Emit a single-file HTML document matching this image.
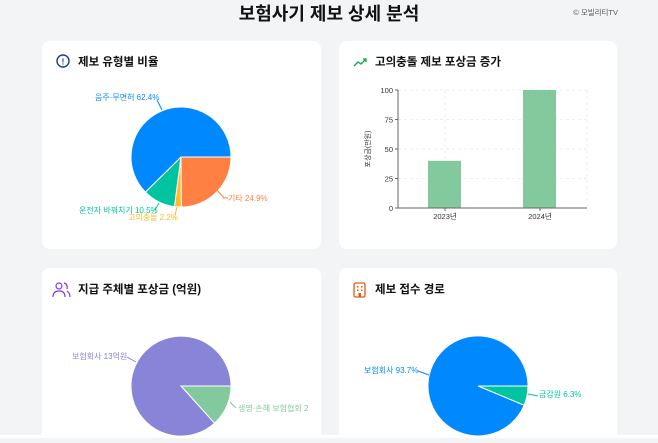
<!DOCTYPE html>
<html><head><meta charset="utf-8"><style>
body{margin:0;width:658px;height:438px;overflow:hidden;background:#f3f4f6;font-family:"Liberation Sans","Noto Sans CJK KR",sans-serif}
</style></head><body>
<svg width="658" height="438" viewBox="0 0 658 438" xmlns="http://www.w3.org/2000/svg" font-family="Liberation Sans, Noto Sans CJK KR, sans-serif">
<rect width="658" height="438" fill="#f3f4f6"/>
<text x="329" y="20" text-anchor="middle" font-size="18" font-weight="bold" fill="#111">보험사기 제보 상세 분석</text>
<text x="618" y="15" text-anchor="end" font-size="7.5" fill="#555">© 모빌리티TV</text>
<rect x="42" y="41" width="279" height="208" rx="8" fill="#fff"/>
<rect x="339" y="41" width="278" height="208" rx="8" fill="#fff"/>
<rect x="42" y="268" width="279" height="190" rx="8" fill="#fff"/>
<rect x="339" y="268" width="278" height="190" rx="8" fill="#fff"/>
<rect x="0" y="435" width="658" height="3" fill="#fff"/>
<!-- card1 -->
<circle cx="63" cy="61" r="6" fill="none" stroke="#1e3a8a" stroke-width="1.4"/>
<text x="63" y="64.5" text-anchor="middle" font-size="8" font-weight="bold" fill="#1e3a8a">!</text>
<text x="78" y="65.5" font-size="11.5" font-weight="bold" fill="#111">제보 유형별 비율</text>
<g stroke="#fff" stroke-width="1">
<path d="M181,157 L231,157 A50,50 0 0 1 181.3,207 Z" fill="#FF8042"/>
<path d="M181,157 L181.3,207 A50,50 0 0 1 174.4,206.6 Z" fill="#FFBB28"/>
<path d="M181,157 L174.4,206.6 A50,50 0 0 1 145.4,192.1 Z" fill="#00C49F"/>
<path d="M181,157 L145.4,192.1 A50,50 0 1 1 231,157 Z" fill="#0088FE"/>
</g>
<path d="M157,100 L162,110" stroke="#0088FE" fill="none"/>
<path d="M217,190 L224,198 L228,198" stroke="#FF8042" fill="none"/>
<path d="M159,203 L155,210" stroke="#00C49F" fill="none"/>
<path d="M177,207 L175,215" stroke="#FFBB28" fill="none"/>
<text x="95" y="100" font-size="8" fill="#0088FE">음주·무면허 62.4%</text>
<text x="228" y="201" font-size="8" fill="#FF8042">기타 24.9%</text>
<text x="79" y="213" font-size="8" fill="#00C49F">운전자 바꿔치기 10.5%</text>
<text x="128" y="220" font-size="8" fill="#FFBB28">고의충돌 2.2%</text>
<!-- card2 -->
<path d="M354,66 L358,62 L361,64 L366,59 M363,59 L366,59 L366,62" stroke="#16a34a" stroke-width="1.3" fill="none"/>
<text x="375" y="65.5" font-size="11.5" font-weight="bold" fill="#111">고의충돌 제보 포상금 증가</text>
<g stroke="#eee" stroke-dasharray="3 3">
<line x1="398" y1="90" x2="587" y2="90"/><line x1="398" y1="119.5" x2="587" y2="119.5"/>
<line x1="398" y1="149" x2="587" y2="149"/><line x1="398" y1="178.5" x2="587" y2="178.5"/>
<line x1="445" y1="90" x2="445" y2="208"/><line x1="540" y1="90" x2="540" y2="208"/><line x1="587" y1="90" x2="587" y2="208"/>
</g>
<rect x="428" y="160.8" width="33" height="47.2" fill="#82ca9d"/>
<rect x="523" y="90" width="33" height="118" fill="#82ca9d"/>
<g stroke="#666"><line x1="398" y1="90" x2="398" y2="208"/><line x1="398" y1="208" x2="587" y2="208"/>
<line x1="395" y1="90" x2="398" y2="90"/><line x1="395" y1="119.5" x2="398" y2="119.5"/><line x1="395" y1="149" x2="398" y2="149"/><line x1="395" y1="178.5" x2="398" y2="178.5"/><line x1="395" y1="208" x2="398" y2="208"/>
<line x1="445" y1="208" x2="445" y2="211"/><line x1="540" y1="208" x2="540" y2="211"/></g>
<g font-size="7.5" fill="#333" text-anchor="end">
<text x="393" y="93">100</text><text x="393" y="122.5">75</text><text x="393" y="152">50</text><text x="393" y="181.5">25</text><text x="393" y="211">0</text></g>
<g font-size="7.5" fill="#333" text-anchor="middle"><text x="445" y="219">2023년</text><text x="540" y="219">2024년</text>
<text transform="translate(370,149) rotate(-90)" font-size="7">포상금(만원)</text></g>
<!-- card3 -->
<circle cx="59" cy="286" r="3" fill="none" stroke="#7c3aed" stroke-width="1.2"/>
<path d="M53,297 Q53,291 59,291 Q65,291 65,297 M64,283 Q68,284 67,289 M67,291 Q70,293 70,297" stroke="#7c3aed" stroke-width="1.2" fill="none"/>
<text x="78" y="293" font-size="11.5" font-weight="bold" fill="#111">지급 주체별 포상금 (억원)</text>
<g stroke="#fff" stroke-width="1">
<path d="M181,386 L231,386 A50,50 0 0 1 214.5,423.2 Z" fill="#82ca9d"/>
<path d="M181,386 L214.5,423.2 A50,50 0 1 1 231,386 Z" fill="#8884d8"/>
</g>
<path d="M127,357 L136,362" stroke="#8884d8" fill="none"/>
<path d="M230,402 L236,408" stroke="#82ca9d" fill="none"/>
<text x="72" y="359" font-size="8" fill="#8884d8">보험회사 13억원</text>
<svg x="0" y="0" width="308" height="438" overflow="hidden"><text x="238" y="411" font-size="8" fill="#82ca9d">생명·손해 보험협회 2억원</text></svg>
<!-- card4 -->
<rect x="354" y="283" width="11" height="14" rx="1.5" fill="#fff" stroke="#ea580c" stroke-width="1.3"/>
<g fill="#ea580c"><rect x="357" y="286" width="1.5" height="1.5"/><rect x="361" y="286" width="1.5" height="1.5"/><rect x="357" y="289.5" width="1.5" height="1.5"/><rect x="361" y="289.5" width="1.5" height="1.5"/><rect x="358.5" y="293" width="2.5" height="4"/></g>
<text x="375" y="293" font-size="11.5" font-weight="bold" fill="#111">제보 접수 경로</text>
<g stroke="#fff" stroke-width="1">
<path d="M478,386 L528,386 A50,50 0 0 1 524.1,405.3 Z" fill="#00C49F"/>
<path d="M478,386 L524.1,405.3 A50,50 0 1 1 528,386 Z" fill="#0088FE"/>
</g>
<path d="M418,371 L429,375" stroke="#0088FE" fill="none"/>
<path d="M528,394 L538,396" stroke="#00C49F" fill="none"/>
<text x="364" y="373" font-size="8" fill="#0088FE">보험회사 93.7%</text>
<text x="539" y="397" font-size="8" fill="#00C49F">금감원 6.3%</text>
</svg>
</body></html>
